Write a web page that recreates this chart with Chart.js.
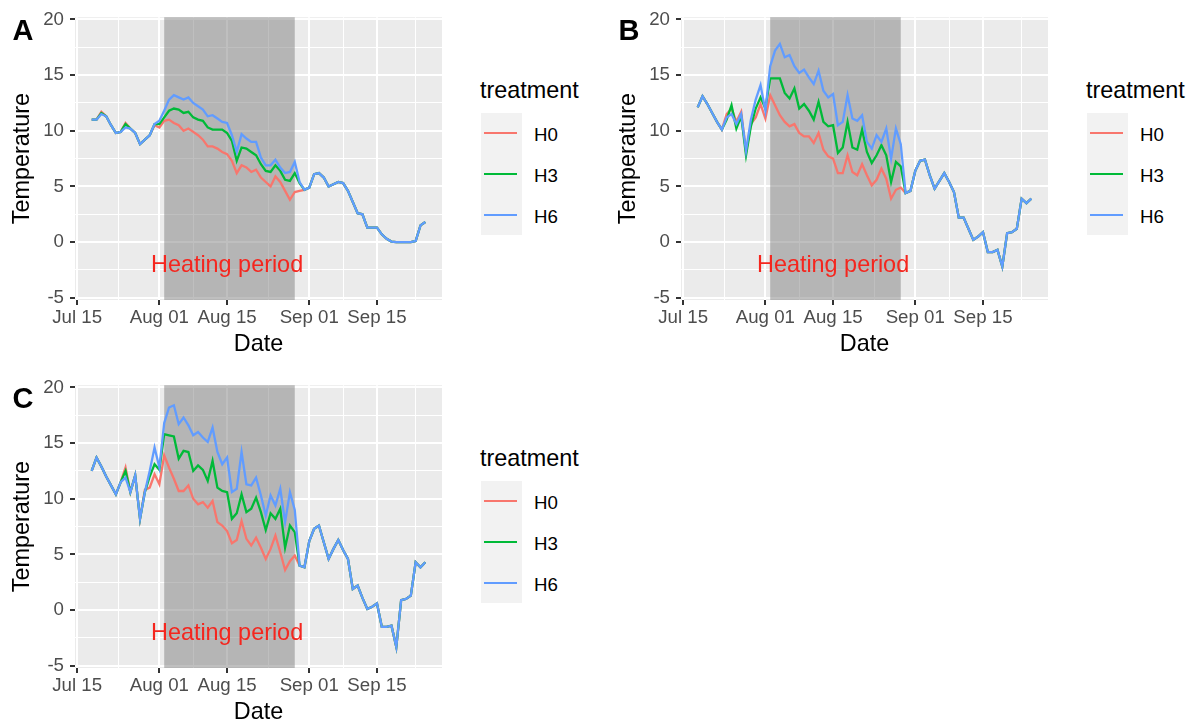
<!DOCTYPE html>
<html>
<head>
<meta charset="utf-8">
<script src="https://cdn.jsdelivr.net/npm/chart.js@4.4.1/dist/chart.umd.min.js"></script>
<style>
  html, body { margin: 0; padding: 0; background: #fff; overflow: hidden; }
  body { width: 1194px; height: 720px; position: relative; font-family: 'Liberation Sans', Arial, sans-serif; }
  .panel { position: absolute; width: 600px; height: 362px; }
  .panel canvas { position: absolute; left: 0; top: 0; }
  .tag { position: absolute; left: 12.5px; top: 15.5px; font-weight: bold; font-size: 29px; line-height: 29px; color: #000; }
  .lg-title { position: absolute; left: 480px; top: 76px; font-size: 23.4px; line-height: 28px; color: #000; }
  .lg-keys { position: absolute; left: 481px; top: 113px; width: 41px; height: 122px; background: #F2F2F2; }
  .lg-line { position: absolute; left: 3px; width: 33px; height: 2px; }
  .lg-label { position: absolute; left: 534px; font-size: 18.7px; line-height: 22px; color: #000; }
</style>
</head>
<body>

<div class="panel" id="panelA" style="left:0;top:0">
  <canvas id="chartA" width="460" height="362"></canvas>
  <div class="tag">A</div>
</div>
<div class="panel" id="panelB" style="left:606px;top:0">
  <canvas id="chartB" width="460" height="362"></canvas>
  <div class="tag">B</div>
</div>
<div class="panel" id="panelC" style="left:0;top:368px">
  <canvas id="chartC" width="460" height="362"></canvas>
  <div class="tag">C</div>
</div>

<script>
// Days of the daily means (month-day)
const dates = [
  '07-18','07-19','07-20','07-21','07-22','07-23','07-24','07-25','07-26','07-27',
  '07-28','07-29','07-30','07-31','08-01','08-02','08-03','08-04','08-05','08-06',
  '08-07','08-08','08-09','08-10','08-11','08-12','08-13','08-14','08-15','08-16',
  '08-17','08-18','08-19','08-20','08-21','08-22','08-23','08-24','08-25','08-26',
  '08-27','08-28','08-29','08-30','08-31','09-01','09-02','09-03','09-04','09-05',
  '09-06','09-07','09-08','09-09','09-10','09-11','09-12','09-13','09-14','09-15',
  '09-16','09-17','09-18','09-19','09-20','09-21','09-22','09-23','09-24','09-25'
];

// Panel A
const aH0 = [
  11.0, 11.0, 11.7, 11.3, 10.5, 9.8, 9.9, 10.7, 10.2, 9.8,
  8.8, 9.2, 9.6, 10.5, 10.3, 10.9, 11.0, 10.7, 10.5, 10.0,
  10.2, 9.9, 9.6, 9.2, 8.6, 8.6, 8.4, 8.1, 7.9, 7.3,
  6.2, 6.9, 6.7, 6.3, 6.5, 5.8, 5.4, 5.0, 5.9, 5.4,
  4.6, 3.8, 4.5, 4.6, 4.7, 4.9, 6.1, 6.2, 5.8, 5.0,
  5.2, 5.4, 5.3, 4.6, 3.6, 2.6, 2.5, 1.3, 1.3, 1.3,
  0.7, 0.3, 0.05, 0.0, 0.0, 0.0, 0.0, 0.1, 1.5, 1.8
];
const aH3 = [
  11.0, 11.0, 11.6, 11.3, 10.5, 9.8, 9.9, 10.6, 10.2, 9.8,
  8.8, 9.2, 9.6, 10.6, 10.6, 11.2, 11.8, 12.0, 11.9, 11.6,
  11.7, 11.2, 11.0, 10.9, 10.3, 10.1, 10.1, 10.1, 9.8, 9.1,
  7.3, 8.5, 8.4, 8.1, 7.8, 7.0, 6.4, 6.3, 6.9, 6.4,
  5.6, 5.5, 6.2, 5.3, 4.7, 4.9, 6.1, 6.2, 5.8, 5.0,
  5.2, 5.4, 5.3, 4.6, 3.6, 2.6, 2.5, 1.3, 1.3, 1.3,
  0.7, 0.3, 0.05, 0.0, 0.0, 0.0, 0.0, 0.1, 1.5, 1.8
];
const aH6 = [
  11.0, 11.0, 11.5, 11.3, 10.5, 9.8, 9.9, 10.3, 10.2, 9.8,
  8.8, 9.2, 9.6, 10.6, 10.9, 11.8, 12.8, 13.2, 13.0, 12.8,
  13.0, 12.5, 12.2, 11.9, 11.3, 11.4, 11.1, 10.8, 10.7, 9.6,
  8.1, 9.7, 9.3, 9.0, 9.0, 7.6, 6.9, 6.9, 7.4, 6.7,
  6.2, 6.3, 7.2, 5.4, 4.7, 4.9, 6.1, 6.2, 5.8, 5.0,
  5.2, 5.4, 5.3, 4.6, 3.6, 2.6, 2.5, 1.3, 1.3, 1.3,
  0.7, 0.3, 0.05, 0.0, 0.0, 0.0, 0.0, 0.1, 1.5, 1.8
];

// Panel B
const bH0 = [
  12.1, 13.1, 12.4, 11.6, 10.8, 10.1, 11.5, 12.0, 10.8, 11.7,
  8.1, 10.6, 11.2, 12.4, 11.1, 13.2, 12.3, 11.4, 10.8, 10.4,
  10.6, 9.8, 9.5, 9.5, 8.9, 9.8, 8.3, 7.7, 7.5, 6.2,
  6.2, 7.8, 6.3, 6.0, 7.0, 6.0, 5.1, 5.6, 6.6, 5.7,
  3.9, 4.7, 4.9, 4.4, 4.6, 6.4, 7.3, 7.4, 6.0, 4.8,
  5.5, 6.2, 5.4, 4.5, 2.2, 2.2, 1.2, 0.2, 0.5, 0.9,
  -0.9, -0.9, -0.7, -2.2, 0.8, 0.9, 1.2, 3.9, 3.5, 3.9
];
const bH3 = [
  12.1, 13.1, 12.4, 11.6, 10.8, 10.1, 11.0, 12.3, 10.2, 11.3,
  7.8, 10.4, 12.0, 13.0, 12.0, 14.7, 14.7, 14.7, 13.4, 12.9,
  13.8, 12.0, 12.4, 11.8, 11.0, 12.6, 10.8, 10.4, 10.5, 8.0,
  8.5, 10.8, 8.5, 8.3, 10.1, 8.1, 7.1, 7.8, 8.7, 7.8,
  5.4, 7.2, 6.8, 4.4, 4.6, 6.4, 7.3, 7.4, 6.0, 4.8,
  5.5, 6.2, 5.4, 4.5, 2.2, 2.2, 1.2, 0.2, 0.5, 0.9,
  -0.9, -0.9, -0.7, -2.2, 0.8, 0.9, 1.2, 3.9, 3.5, 3.9
];
const bH6 = [
  12.1, 13.1, 12.4, 11.6, 10.8, 10.1, 11.2, 11.5, 10.6, 11.5,
  8.2, 11.0, 12.8, 14.1, 11.8, 15.8, 17.2, 17.8, 16.6, 16.8,
  15.8, 15.2, 15.5, 14.8, 14.2, 15.4, 13.6, 13.0, 13.3, 10.5,
  10.8, 13.2, 11.1, 10.9, 11.4, 9.0, 8.4, 9.6, 9.0, 10.2,
  7.5, 10.2, 8.8, 4.4, 4.6, 6.4, 7.3, 7.4, 6.0, 4.8,
  5.5, 6.2, 5.4, 4.5, 2.2, 2.2, 1.2, 0.2, 0.5, 0.9,
  -0.9, -0.9, -0.7, -2.2, 0.8, 0.9, 1.2, 3.9, 3.5, 3.9
];

// Panel C
const cH0 = [
  12.5, 13.7, 12.9, 12.0, 11.2, 10.4, 11.5, 12.8, 10.6, 12.1,
  8.2, 10.8, 11.0, 12.2, 11.3, 13.9, 12.8, 11.8, 10.7, 10.7,
  11.2, 10.0, 9.5, 9.7, 9.2, 9.8, 7.9, 7.6, 7.1, 6.0,
  6.3, 8.0, 6.4, 5.8, 6.5, 5.6, 4.6, 5.5, 6.7, 5.2,
  3.6, 4.4, 4.9, 4.0, 3.85, 6.2, 7.3, 7.6, 6.1, 4.6,
  5.5, 6.3, 5.4, 4.6, 1.9, 2.2, 1.1, 0.1, 0.3, 0.6,
  -1.5, -1.5, -1.4, -3.3, 0.9, 1.0, 1.3, 4.3, 3.85, 4.3
];
const cH3 = [
  12.5, 13.7, 12.9, 12.0, 11.2, 10.4, 11.5, 12.5, 10.6, 12.1,
  8.2, 10.6, 12.0, 13.1, 12.6, 15.8, 15.7, 15.6, 13.6, 14.3,
  14.2, 12.5, 13.0, 12.6, 11.6, 13.4, 11.0, 10.7, 10.6, 8.2,
  8.7, 10.4, 8.8, 9.1, 10.1, 8.8, 7.2, 8.7, 8.2, 9.1,
  5.6, 7.6, 7.0, 4.0, 3.85, 6.2, 7.3, 7.6, 6.1, 4.6,
  5.5, 6.3, 5.4, 4.6, 1.9, 2.2, 1.1, 0.1, 0.3, 0.6,
  -1.5, -1.5, -1.4, -3.3, 0.9, 1.0, 1.3, 4.3, 3.85, 4.3
];
const cH6 = [
  12.5, 13.7, 12.9, 12.0, 11.2, 10.4, 11.5, 11.9, 10.6, 12.1,
  8.2, 10.6, 12.5, 14.6, 12.8, 16.8, 18.2, 18.4, 16.7, 17.3,
  16.6, 15.7, 16.0, 15.5, 15.1, 16.4, 14.2, 13.1, 13.7, 10.6,
  10.9, 14.2, 11.3, 11.2, 11.9, 10.3, 8.5, 10.3, 9.4, 10.9,
  7.9, 10.6, 9.0, 4.0, 3.85, 6.2, 7.3, 7.6, 6.1, 4.6,
  5.5, 6.3, 5.4, 4.6, 1.9, 2.2, 1.1, 0.1, 0.3, 0.6,
  -1.5, -1.5, -1.4, -3.3, 0.9, 1.0, 1.3, 4.3, 3.85, 4.3
];

// Legend and axes
const seriesNames = ['H0', 'H3', 'H6'];
const seriesColors = ['#F8766D', '#00BA38', '#619CFF'];
const xTickDates = ['07-15', '08-01', '08-15', '09-01', '09-15', '10-01'];
const xTickLabels = ['Jul 15', 'Aug 01', 'Aug 15', 'Sep 01', 'Sep 15', ''];
const yTickValues = [-5, 0, 5, 10, 15, 20];
const heatingDates = ['08-02', '08-29'];
const heatingText = 'Heating period';
const heatingTextAt = ['08-15', -2.1];

// month-day -> days since Jul 15
const dayOf = (md) => {
    const [m, d] = md.split('-').map(Number);
    return (Date.UTC(2000, m - 1, d) - Date.UTC(2000, 6, 15)) / 86400000;
};

const xDays = dates.map(dayOf);
const xMajor = xTickDates.map(dayOf);
const xGrid = [];
xMajor.forEach((v, i) => {
    xGrid.push(v);
    if (i < xMajor.length - 1) xGrid.push((v + xMajor[i + 1]) / 2);
});
const yGrid = [];
yTickValues.forEach((v, i) => {
    yGrid.push(v);
    if (i < yTickValues.length - 1) yGrid.push((v + yTickValues[i + 1]) / 2);
});

Chart.defaults.font.family = "'Liberation Sans', Arial, sans-serif";

// ggplot-like panel: grey background, shaded heating period, red label
const panelPlugin = {
    id: 'panel',
    beforeDraw(chart) {
        const {ctx, chartArea: a} = chart;
        ctx.save();
        ctx.fillStyle = '#EBEBEB';
        ctx.fillRect(a.left, a.top, a.right - a.left, a.bottom - a.top);
        ctx.restore();
    },
    beforeDatasetsDraw(chart) {
        const {ctx, chartArea: a, scales: {x}} = chart;
        const x0 = x.getPixelForValue(dayOf(heatingDates[0]));
        const x1 = x.getPixelForValue(dayOf(heatingDates[1]));
        ctx.save();
        ctx.fillStyle = 'rgba(127,127,127,0.5)';
        ctx.fillRect(x0, a.top, x1 - x0, a.bottom - a.top);
        ctx.restore();
    },
    afterDatasetsDraw(chart) {
        const {ctx, scales: {x, y}} = chart;
        ctx.save();
        ctx.font = "23.4px 'Liberation Sans', Arial, sans-serif";
        ctx.fillStyle = '#F5261E';
        ctx.textAlign = 'center';
        ctx.textBaseline = 'middle';
        ctx.fillText(heatingText, x.getPixelForValue(dayOf(heatingTextAt[0])), y.getPixelForValue(heatingTextAt[1]));
        ctx.restore();
    }
};

const isMajor = (list, c) => c.tick && list.includes(c.tick.value);

const makeChart = (id, series) => {
    const ctx = document.getElementById(id).getContext('2d');
    return new Chart(ctx, {
        type: 'line',
        data: {
            datasets: series.map((vals, i) => ({
                label: seriesNames[i],
                data: vals.map((v, k) => ({x: xDays[k], y: v})),
                borderColor: seriesColors[i],
                backgroundColor: seriesColors[i],
                borderWidth: 2.3,
                pointRadius: 0,
                tension: 0,
                order: series.length - i
            }))
        },
        options: {
            responsive: false,
            animation: false,
            devicePixelRatio: 1,
            layout: { padding: { left: 0, top: 15, right: 18, bottom: 0 } },
            plugins: { legend: { display: false }, tooltip: { enabled: false } },
            scales: {
                x: {
                    type: 'linear',
                    min: -0.45,
                    max: 75.45,
                    // major breaks plus minor breaks halfway, only inside the panel
                    afterBuildTicks: (s) => {
                        s.ticks = xGrid.filter(v => v >= s.min && v <= s.max).map(v => ({value: v}));
                    },
                    afterFit: (s) => { s.height = 62; },
                    ticks: {
                        autoSkip: false,
                        maxRotation: 0,
                        padding: 2,
                        color: '#4D4D4D',
                        font: { size: 18.7 },
                        callback: (v) => {
                            const i = xMajor.indexOf(v);
                            return i >= 0 ? xTickLabels[i] : '';
                        }
                    },
                    grid: {
                        color: '#FFFFFF',
                        lineWidth: (c) => isMajor(xMajor, c) ? 2 : 1,
                        tickLength: 5,
                        tickWidth: 2,
                        tickColor: (c) => isMajor(xMajor, c) ? '#333333' : 'rgba(0,0,0,0)'
                    },
                    border: { display: false },
                    title: {
                        display: true,
                        text: 'Date',
                        color: '#000000',
                        font: { size: 23.4 },
                        padding: { top: 0, bottom: 3 }
                    }
                },
                y: {
                    min: -5.2,
                    max: 20.2,
                    afterBuildTicks: (s) => { s.ticks = yGrid.map(v => ({value: v})); },
                    afterFit: (s) => { s.width = 75; },
                    ticks: {
                        padding: 6,
                        color: '#4D4D4D',
                        font: { size: 18.7 },
                        callback: (v) => yTickValues.includes(v) ? String(v) : ''
                    },
                    grid: {
                        color: '#FFFFFF',
                        lineWidth: (c) => isMajor(yTickValues, c) ? 2 : 1,
                        tickLength: 5,
                        tickWidth: 2,
                        tickColor: (c) => isMajor(yTickValues, c) ? '#333333' : 'rgba(0,0,0,0)'
                    },
                    border: { display: false },
                    title: {
                        display: true,
                        text: 'Temperature',
                        color: '#000000',
                        font: { size: 23.4 },
                        padding: { top: 8.5, bottom: 0 }
                    }
                }
            }
        },
        plugins: [panelPlugin]
    });
};

// HTML legend in the ggplot style
const addLegend = (panelId) => {
    const panel = document.getElementById(panelId);
    const title = document.createElement('div');
    title.className = 'lg-title';
    title.textContent = 'treatment';
    panel.appendChild(title);
    const keys = document.createElement('div');
    keys.className = 'lg-keys';
    panel.appendChild(keys);
    seriesNames.forEach((name, i) => {
        const line = document.createElement('div');
        line.className = 'lg-line';
        line.style.top = (19 + i * 41) + 'px';
        line.style.background = seriesColors[i];
        keys.appendChild(line);
        const label = document.createElement('div');
        label.className = 'lg-label';
        label.style.top = (124 + i * 41) + 'px';
        label.textContent = name;
        panel.appendChild(label);
    });
};

makeChart('chartA', [aH0, aH3, aH6]);
makeChart('chartB', [bH0, bH3, bH6]);
makeChart('chartC', [cH0, cH3, cH6]);
['panelA', 'panelB', 'panelC'].forEach(addLegend);
</script>
</body>
</html>
